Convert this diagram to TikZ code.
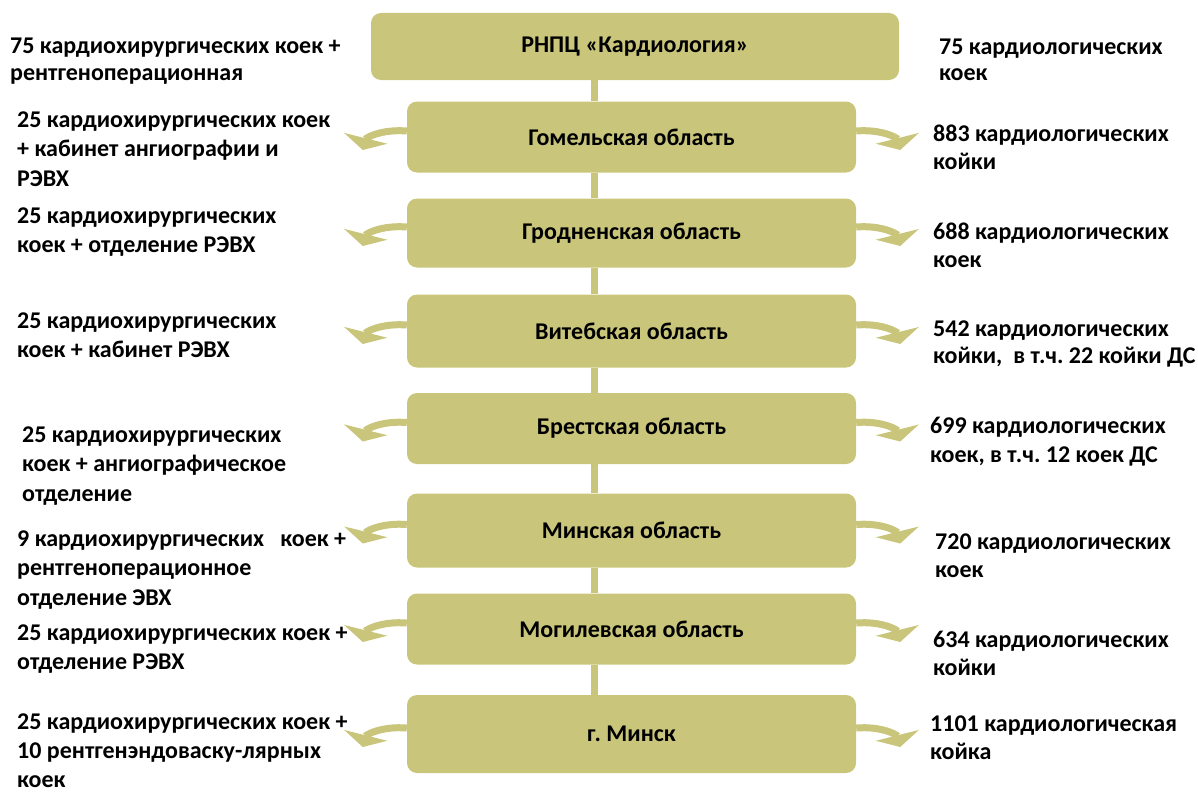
\documentclass[tikz,border=0pt]{standalone}
\usepackage{fontspec}
\setmainfont{Carlito}
\usetikzlibrary{arrows.meta}
\definecolor{boxc}{RGB}{201,197,122}
\tikzset{
  region/.style={rectangle, rounded corners=10pt, fill=boxc, minimum width=449pt, minimum height=71pt, inner sep=0pt, font=\fontsize{24}{28}\selectfont\bfseries},
  txtl/.style={anchor=base west, align=left, inner sep=0pt, font=\fontsize{24}{29.5}\selectfont\bfseries},
  txtr/.style={anchor=base west, align=left, inner sep=0pt, font=\fontsize{24}{28.5}\selectfont\bfseries},
  conn/.style={draw=boxc, line width=7pt},
  carrow/.style={draw=boxc, line width=7pt, -{Triangle[width=44pt,length=12pt]}},
}
\frenchspacing
\begin{document}
\frenchspacing
\begin{tikzpicture}[x=1pt,y=-1pt]
\useasboundingbox (0,0) rectangle (1198,792);
\coordinate (spine) at (594.5,0);
\node[region, minimum width=528pt, minimum height=67pt] (top) at (635,46.5) {РНПЦ «Кардиология»};
\node[region] (gom) at (631.5,137) {Гомельская область};
\node[region, minimum height=69pt] (gro) at (631.5,233) {Гродненская область};
\node[region, minimum height=73pt] (vit) at (631.5,331) {Витебская область};
\node[region] (bre) at (631.5,428.5) {Брестская область};
\node[region, minimum height=74pt] (mio) at (631.5,530.5) {Минская область};
\node[region] (mog) at (631.5,629) {Могилевская область};
\node[region, minimum height=78pt] (mic) at (631.5,734) {г. Минск};
\draw[conn] (top.south -| spine) -- (gom.north -| spine);
\draw[conn] (gom.south -| spine) -- (gro.north -| spine);
\draw[conn] (gro.south -| spine) -- (vit.north -| spine);
\draw[conn] (vit.south -| spine) -- (bre.north -| spine);
\draw[conn] (bre.south -| spine) -- (mio.north -| spine);
\draw[conn] (mio.south -| spine) -- (mog.north -| spine);
\draw[conn] (mog.south -| spine) -- (mic.north -| spine);
\foreach \b in {gom,gro,vit,bre,mio,mog,mic}{
  \draw[carrow] ([yshift=6pt]\b.west) .. controls +(-26,-2) and +(3,-12) .. ++(-44,19);
  \draw[carrow] ([yshift=6pt]\b.east) .. controls +(26,-2) and +(-3,-12) .. ++(44,19);
}
% left texts (anchor = baseline of last line)
\node[txtl, font=\fontsize{24}{27}\selectfont\bfseries] (l0) at (10,81) {75 кардиохирургических коек +\\рентгеноперационная};
\node[txtl] (l1) at (17,186) {25 кардиохирургических коек\\+ кабинет ангиографии и\\РЭВХ};
\node[txtl] (l2) at (17,252.5) {25 кардиохирургических\\коек + отделение РЭВХ};
\node[txtl] (l3) at (17,357.5) {25 кардиохирургических\\коек + кабинет РЭВХ};
\node[txtl] (l4) at (22,501) {25 кардиохирургических\\коек + ангиографическое\\отделение};
\node[txtl] (l5) at (17,605) {9 кардиохирургических\ \ \ коек +\\рентгеноперационное\\отделение ЭВХ};
\node[txtl] (l6) at (17,669.5) {25 кардиохирургических коек +\\отделение РЭВХ};
\node[txtl, font=\fontsize{24}{29}\selectfont\bfseries] (l7) at (17,787) {25 кардиохирургических коек +\\10 рентгенэндоваску-лярных\\коек};
% right texts
\node[txtr, font=\fontsize{24}{26}\selectfont\bfseries] (r0) at (939,81) {75 кардиологических\\коек};
\node[txtr] (r1) at (933,169.5) {883 кардиологических\\койки};
\node[txtr] (r2) at (933,267.5) {688 кардиологических\\коек};
\node[txtr, font=\fontsize{24}{27.5}\selectfont\bfseries] (r3) at (933,363.5) {542 кардиологических\\койки,\ \ в т.ч. 22 койки ДС};
\node[txtr] (r4) at (930,462) {699 кардиологических\\коек, в т.ч. 12 коек ДС};
\node[txtr] (r5) at (935,577.5) {720 кардиологических\\коек};
\node[txtr] (r6) at (933,675.5) {634 кардиологических\\койки};
\node[txtr] (r7) at (930,759.5) {1101 кардиологическая\\койка};
\end{tikzpicture}
\end{document}
